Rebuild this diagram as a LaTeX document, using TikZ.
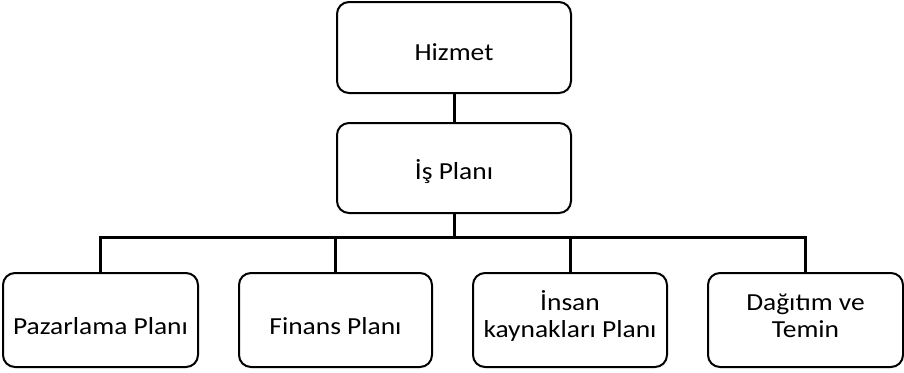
\documentclass[tikz,border=0pt]{standalone}
\usepackage{fontspec}
\setmainfont{Carlito}[FakeStretch=1.12]
\begin{document}
\begin{tikzpicture}[x=1pt,y=-1pt,
  box/.style={draw, line width=2pt, rounded corners=12pt, inner sep=0pt},
  txt/.style={align=center, font=\fontsize{24.5}{27.5}\selectfont, inner sep=0pt},
  link/.style={line width=3pt}]
\useasboundingbox (0,0) rectangle (904,372);
\node[box, minimum width=234pt, minimum height=91pt] (hiz) at (454,47.5) {};
\node[box, minimum width=234pt, minimum height=90pt] (plan) at (454,168) {};
\node[box, minimum width=195pt, minimum height=94pt] (paz) at (100.5,320) {};
\node[box, minimum width=193pt, minimum height=94pt] (fin) at (335.5,320) {};
\node[box, minimum width=194pt, minimum height=94pt] (ins) at (570,320) {};
\node[box, minimum width=195pt, minimum height=94pt] (dag) at (805.5,320) {};
\node[txt] (hizt) at ([yshift=-5pt]hiz.center) {Hizmet};
\node[txt] (plant) at ([yshift=-4pt]plan.center) {İş Planı};
\node[txt] (pazt) at ([yshift=-6pt]paz.center) {Pazarlama Planı};
\node[txt] (fint) at ([yshift=-6pt]fin.center) {Finans Planı};
\node[txt] (inst) at ([yshift=4pt]ins.center) {İnsan\\kaynakları Planı};
\node[txt] (dagt) at ([yshift=4pt]dag.center) {Dağıtım ve\\Temin};
\coordinate (bus) at (454,237);
\draw[link] (hiz.south) -- (plan.north);
\draw[link] (plan.south) -- (bus);
\draw[link] (paz.north) |- (bus) -| (dag.north);
\draw[link] (fin.north) -- (fin.north |- bus);
\draw[link] (ins.north) -- (ins.north |- bus);
\end{tikzpicture}
\end{document}
